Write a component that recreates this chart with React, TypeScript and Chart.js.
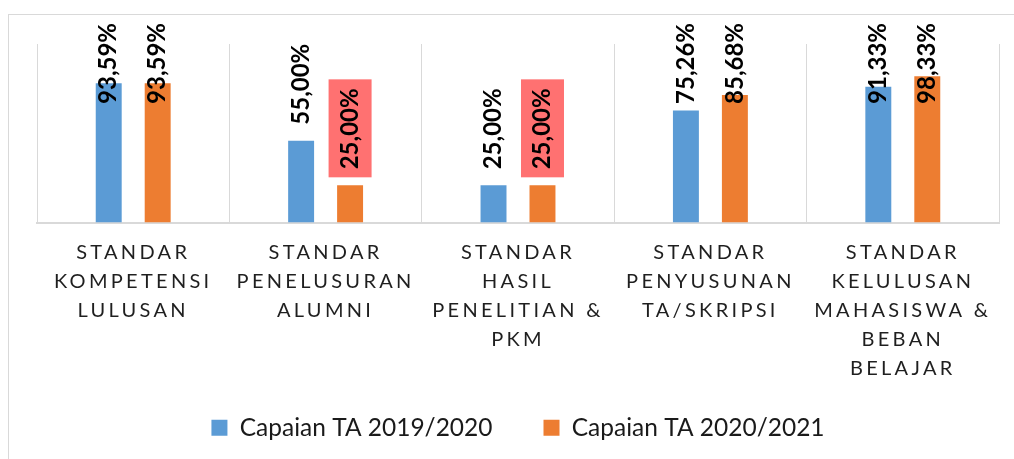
import React, { useEffect, useRef } from "react";
import { Chart, registerables, CategoryScale } from "chart.js";

Chart.register(...registerables);

const categories: string[][] = [
  ["STANDAR", "KOMPETENSI", "LULUSAN"],
  ["STANDAR", "PENELUSURAN", "ALUMNI"],
  ["STANDAR", "HASIL", "PENELITIAN &", "PKM"],
  ["STANDAR", "PENYUSUNAN", "TA/SKRIPSI"],
  ["STANDAR", "KELULUSAN", "MAHASISWA &", "BEBAN", "BELAJAR"],
];

const seriesNames: string[] = ["Capaian TA 2019/2020", "Capaian TA 2020/2021"];
const values2019: number[] = [93.59, 55.0, 25.0, 75.26, 91.33];
const values2020: number[] = [93.59, 25.0, 25.0, 85.68, 98.33];
const highlight2019: boolean[] = [false, false, false, false, false];
const highlight2020: boolean[] = [false, true, true, false, false];

const BLUE = "#5B9BD5";
const ORANGE = "#ED7D31";
const HIGHLIGHT_BG = "#FF7171";
const GRID = "#D9D9D9";

class SpacedCategoryScale extends CategoryScale {
  static id = "spacedCategory";
  static defaults = CategoryScale.defaults;
  _computeLabelArea() {
    return undefined;
  }
  drawLabels(chartArea: any) {
    const ctx = (this as any).ctx as CanvasRenderingContext2D;
    ctx.save();
    (ctx as any).letterSpacing = "3.3px";
    super.drawLabels(chartArea);
    ctx.restore();
  }
}
Chart.register(SpacedCategoryScale as any);

const fmt = (v: number) => v.toFixed(2).replace(".", ",") + "%";

const labelPlugin = {
  id: "barValueLabels",
  afterDatasetsDraw(chart: any) {
    const ctx: CanvasRenderingContext2D = chart.ctx;
    const highlights = [highlight2019, highlight2020];
    chart.data.datasets.forEach((ds: any, di: number) => {
      const meta = chart.getDatasetMeta(di);
      meta.data.forEach((bar: any, i: number) => {
        const text = fmt(ds.data[i]);
        ctx.save();
        ctx.font = "bold 24px Lato";
        const w = ctx.measureText(text).width;
        let start = bar.y - 16;
        const minTop = 8;
        if (start - w < minTop) start = minTop + w;
        if (highlights[di][i]) {
          ctx.fillStyle = HIGHLIGHT_BG;
          ctx.fillRect(bar.x - 21.5, start - w - 9, 43, w + 17);
        }
        ctx.translate(bar.x, start);
        ctx.rotate(-Math.PI / 2);
        ctx.textAlign = "left";
        ctx.textBaseline = "middle";
        ctx.fillStyle = "#000000";
        ctx.fillText(text, 0, 0);
        ctx.restore();
      });
    });
  },
};

export default function App() {
  const ref = useRef<HTMLCanvasElement | null>(null);

  useEffect(() => {
    if (!ref.current) return;
    Chart.defaults.font.family = "Lato";
    const chart = new Chart(ref.current, {
      type: "bar",
      data: {
        labels: categories,
        datasets: [
          {
            label: seriesNames[0],
            data: values2019,
            backgroundColor: BLUE,
            categoryPercentage: 0.509,
            barPercentage: 0.53,
          },
          {
            label: seriesNames[1],
            data: values2020,
            backgroundColor: ORANGE,
            categoryPercentage: 0.509,
            barPercentage: 0.53,
          },
        ],
      },
      options: {
        responsive: false,
        animation: false,
        layout: { padding: { left: 28, right: 15, top: 29, bottom: 9 } },
        scales: {
          x: {
            type: "spacedCategory" as any,
            grid: {
              display: true,
              offset: true,
              color: GRID,
              lineWidth: 1,
              drawTicks: false,
            },
            border: { display: true, color: GRID, width: 2 },
            ticks: {
              autoSkip: false,
              maxRotation: 0,
              minRotation: 0,
              padding: 16,
              color: "#1f1f1f",
              font: { family: "Lato", size: 20, lineHeight: 1.45 },
            },
            afterFit: (scale: any) => {
              scale.height = 142;
            },
          },
          y: {
            display: false,
            min: 0,
            max: 120,
            grid: { display: false },
          },
        },
        plugins: {
          legend: {
            position: "bottom",
            labels: {
              boxWidth: 16,
              boxHeight: 16,
              padding: 51,
              color: "#1a1a1a",
              font: { family: "Lato", size: 24.5 },
            },
          },
          tooltip: { enabled: false },
        },
      },
      plugins: [labelPlugin],
    });
    return () => chart.destroy();
  }, []);

  return (
    <div
      style={{
        position: "absolute",
        left: 8,
        top: 14,
        width: 1006,
        height: 445,
        borderLeft: "1px solid #D9D9D9",
        borderTop: "1px solid #D9D9D9",
        boxSizing: "border-box",
        background: "#fff",
      }}
    >
      <canvas ref={ref} width={1005} height={444} style={{ display: "block" }} />
    </div>
  );
}
